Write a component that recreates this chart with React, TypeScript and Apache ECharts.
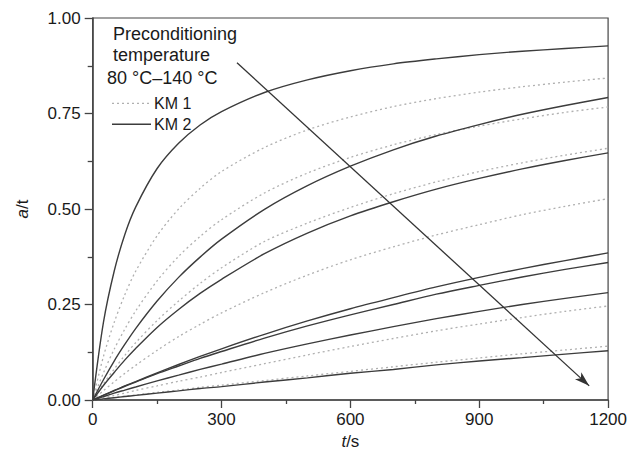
import React, { useEffect, useRef } from "react";
import * as echarts from "echarts";

// time samples (s)
const t = [0, 25, 50, 75, 100, 150, 200, 250, 300, 400, 500, 600, 700, 800, 900, 1000, 1100, 1200];

// KM 2 (solid) curves, 80 °C … 140 °C
const km2_a = [0, 0.203, 0.337, 0.434, 0.505, 0.606, 0.672, 0.72, 0.755, 0.805, 0.838, 0.862, 0.88, 0.893, 0.904, 0.913, 0.92, 0.927];
const km2_b = [0, 0.053, 0.102, 0.146, 0.187, 0.259, 0.321, 0.374, 0.421, 0.499, 0.561, 0.612, 0.655, 0.691, 0.721, 0.748, 0.771, 0.792];
const km2_c = [0, 0.038, 0.072, 0.105, 0.135, 0.19, 0.237, 0.279, 0.316, 0.383, 0.437, 0.482, 0.519, 0.552, 0.58, 0.605, 0.627, 0.647];
const km2_d = [0, 0.0125, 0.025, 0.037, 0.048, 0.071, 0.093, 0.114, 0.134, 0.172, 0.207, 0.239, 0.268, 0.296, 0.321, 0.344, 0.365, 0.385];
const km2_e = [0, 0.012, 0.024, 0.036, 0.047, 0.069, 0.089, 0.109, 0.127, 0.162, 0.194, 0.223, 0.25, 0.277, 0.3, 0.322, 0.342, 0.36];
const km2_f = [0, 0.009, 0.018, 0.026, 0.034, 0.05, 0.065, 0.08, 0.094, 0.122, 0.147, 0.17, 0.192, 0.213, 0.232, 0.25, 0.266, 0.281];
const km2_g = [0, 0.003, 0.006, 0.009, 0.012, 0.018, 0.024, 0.03, 0.035, 0.047, 0.058, 0.07, 0.08, 0.092, 0.102, 0.111, 0.12, 0.129];

// KM 1 (dotted) curves
const km1_a = [0, 0.114, 0.203, 0.276, 0.337, 0.43, 0.5, 0.554, 0.598, 0.661, 0.707, 0.741, 0.768, 0.789, 0.806, 0.82, 0.832, 0.843];
const km1_b = [0, 0.071, 0.133, 0.186, 0.233, 0.312, 0.376, 0.428, 0.472, 0.542, 0.594, 0.635, 0.668, 0.695, 0.717, 0.736, 0.753, 0.767];
const km1_c = [0, 0.042, 0.081, 0.117, 0.15, 0.208, 0.259, 0.305, 0.346, 0.415, 0.463, 0.504, 0.54, 0.571, 0.598, 0.621, 0.641, 0.659];
const km1_d = [0, 0.0245, 0.0477, 0.0698, 0.0907, 0.13, 0.166, 0.198, 0.228, 0.281, 0.327, 0.367, 0.401, 0.432, 0.459, 0.485, 0.507, 0.527];
const km1_e = [0, 0.006, 0.012, 0.018, 0.025, 0.037, 0.049, 0.06, 0.072, 0.095, 0.118, 0.14, 0.161, 0.181, 0.199, 0.216, 0.232, 0.246];
const km1_f = [0, 0.003, 0.007, 0.01, 0.013, 0.02, 0.026, 0.033, 0.039, 0.051, 0.063, 0.075, 0.087, 0.099, 0.11, 0.121, 0.131, 0.141];

// arrow (temperature direction), data coords
const arrowStart = [336, 0.883];
const arrowEnd = [1156, 0.037];

const xTicks = [0, 300, 600, 900, 1200];
const yTicks = [0, 0.25, 0.5, 0.75, 1.0];

const legendTitle = ["Preconditioning", "temperature", "80 °C–140 °C"];
const legendItems = ["KM 1", "KM 2"];

const FONT = "Liberation Sans, Arial, Helvetica, sans-serif";

export default function App() {
  const ref = useRef<HTMLDivElement>(null);
  useEffect(() => {
    if (!ref.current) return;
    document.body.style.margin = "0";
    const chart = echarts.init(ref.current, undefined, { renderer: "svg" });
    const pair = (ys: number[]) => t.map((x, i) => [x, ys[i]]);
    const solid = [km2_a, km2_b, km2_c, km2_d, km2_e, km2_f, km2_g];
    const dotted = [km1_a, km1_b, km1_c, km1_d, km1_e, km1_f];
    const series: any[] = [];
    dotted.forEach((ys, i) => {
      series.push({
        type: "line",
        name: "KM 1 #" + (i + 1),
        data: pair(ys),
        showSymbol: false,
        smooth: 0.3,
        lineStyle: { color: "#b0b0b0", width: 1.3, type: [2, 3] },
        silent: true,
        z: 2,
      });
    });
    solid.forEach((ys, i) => {
      series.push({
        type: "line",
        name: "KM 2 #" + (i + 1),
        data: pair(ys),
        showSymbol: false,
        smooth: 0.3,
        lineStyle: { color: "#3c3c3c", width: 1.4, type: "solid" },
        silent: true,
        z: 3,
      });
    });
    series.push({
      type: "line",
      name: "arrow",
      data: [],
      silent: true,
      markLine: {
        silent: true,
        symbol: ["none", "arrow"],
        symbolSize: [7, 15],
        label: { show: false },
        lineStyle: { color: "#333", width: 1.3, type: "solid" },
        data: [[{ coord: arrowStart }, { coord: arrowEnd }]],
      },
      z: 4,
    });

    const legendGraphics: any[] = [];
    const titleY = [34.4, 55.4, 77.7];
    const titleX = [113, 113, 107];
    legendTitle.forEach((txt, i) => {
      legendGraphics.push({
        type: "text",
        x: titleX[i],
        y: titleY[i],
        style: { text: txt, font: `18px ${FONT}`, fill: "#1a1a1a", textAlign: "left", textVerticalAlign: "middle" },
      });
    });
    const itemY = [103.3, 124.3];
    legendItems.forEach((txt, i) => {
      legendGraphics.push({
        type: "line",
        shape: { x1: 112, y1: itemY[i], x2: 151, y2: itemY[i] },
        style: i === 0
          ? { stroke: "#b0b0b0", lineWidth: 1.3, lineDash: [2, 3] }
          : { stroke: "#3c3c3c", lineWidth: 1.4 },
      });
      legendGraphics.push({
        type: "text",
        x: 154,
        y: itemY[i],
        style: { text: txt, font: `16px ${FONT}`, fill: "#1a1a1a", textAlign: "left", textVerticalAlign: "middle" },
      });
    });

    chart.setOption({
      animation: false,
      backgroundColor: "#ffffff",
      grid: {
        left: 92.7,
        right: 19.3,
        top: 18,
        bottom: 58,
        show: true,
        borderColor: "#444",
        borderWidth: 1.2,
        backgroundColor: "transparent",
      },
      xAxis: {
        type: "value",
        min: 0,
        max: 1200,
        interval: 300,
        name: "{i|t}/s",
        nameLocation: "middle",
        nameGap: 31,
        nameTextStyle: {
          fontFamily: FONT,
          fontSize: 17,
          color: "#1a1a1a",
          rich: { i: { fontStyle: "italic", fontFamily: FONT, fontSize: 17, color: "#1a1a1a" } },
        },
        axisLine: { show: true, onZero: false, lineStyle: { color: "#444", width: 1.5 } },
        axisTick: { show: true, inside: false, length: 8, lineStyle: { color: "#444", width: 1.3 } },
        minorTick: { show: true, splitNumber: 2, length: 4, lineStyle: { color: "#444", width: 1.3 } },
        splitLine: { show: false },
        minorSplitLine: { show: false },
        axisLabel: {
          margin: 11,
          fontFamily: FONT,
          fontSize: 17,
          color: "#1a1a1a",
          formatter: (v: number) => (xTicks.includes(v) ? String(v) : ""),
        },
      },
      yAxis: {
        type: "value",
        min: 0,
        max: 1,
        interval: 0.25,
        name: "{i|a}/t",
        nameLocation: "middle",
        nameGap: 62,
        nameRotate: 90,
        nameTextStyle: {
          fontFamily: FONT,
          fontSize: 17,
          color: "#1a1a1a",
          rich: { i: { fontStyle: "italic", fontFamily: FONT, fontSize: 17, color: "#1a1a1a" } },
        },
        axisLine: { show: true, onZero: false, lineStyle: { color: "#444", width: 1.5 } },
        axisTick: { show: true, inside: false, length: 8, lineStyle: { color: "#444", width: 1.3 } },
        minorTick: { show: true, splitNumber: 2, length: 5, lineStyle: { color: "#444", width: 1.3 } },
        splitLine: { show: false },
        minorSplitLine: { show: false },
        axisLabel: {
          margin: 12,
          fontFamily: FONT,
          fontSize: 17,
          color: "#1a1a1a",
          formatter: (v: number) => (yTicks.some((y) => Math.abs(y - v) < 1e-9) ? v.toFixed(2) : ""),
        },
      },
      graphic: legendGraphics,
      series,
    });
    return () => chart.dispose();
  }, []);
  return <div ref={ref} style={{ width: 630, height: 458 }} />;
}
